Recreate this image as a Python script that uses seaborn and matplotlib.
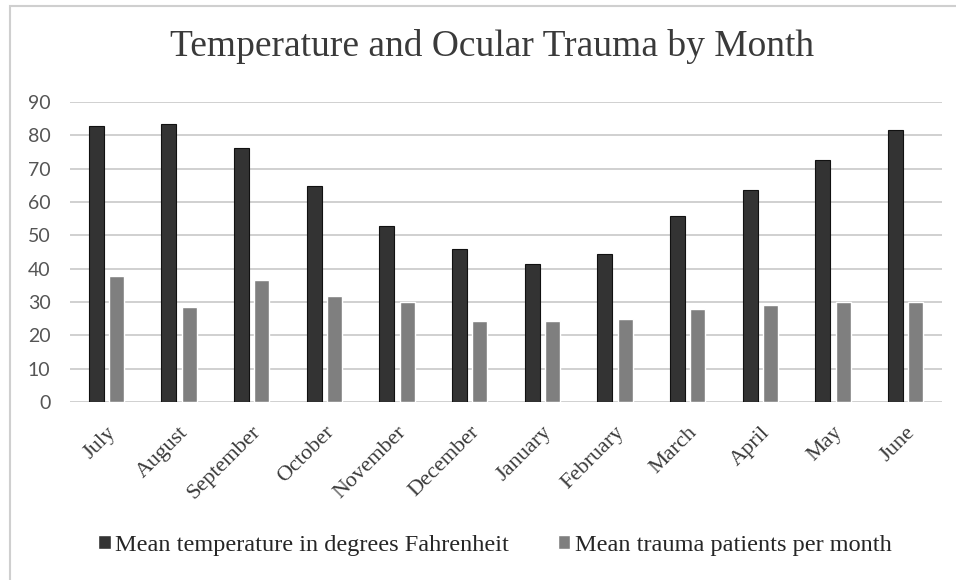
import matplotlib
matplotlib.use("Agg")
import matplotlib.pyplot as plt
import matplotlib.patches as mpatches
import seaborn as sns
import pandas as pd

sns.set_theme(style="white")

# 数据：按月份的平均气温与平均眼外伤人数
months = ["July", "August", "September", "October", "November", "December",
          "January", "February", "March", "April", "May", "June"]
temperature = [82.8, 83.5, 76.2, 64.8, 52.8, 46.0, 41.4, 44.3, 55.8, 63.6, 72.7, 81.6]
trauma = [37.7, 28.5, 36.5, 31.7, 30.1, 24.3, 24.3, 24.9, 27.9, 29.0, 30.1, 30.1]
series_names = ["Mean temperature in degrees Fahrenheit", "Mean trauma patients per month"]
y_ticks = [0, 10, 20, 30, 40, 50, 60, 70, 80, 90]

df = pd.DataFrame({
    "month": months * 2,
    "value": temperature + trauma,
    "series": [series_names[0]] * len(months) + [series_names[1]] * len(months),
})

fig = plt.figure(figsize=(9.56, 5.8), dpi=100)
ax = fig.add_axes([70 / 956, 1 - 402 / 580, 872 / 956, 300 / 580])

sns.barplot(data=df, x="month", y="value", hue="series", order=months,
            palette=["#333333", "#7f7f7f"], width=0.555, gap=0.25,
            saturation=1, ax=ax, legend=True)

# 深色柱子加黑边
for bar in ax.containers[0]:
    bar.set_edgecolor("#111111")
    bar.set_linewidth(0.8)

ax.set_ylim(0, 90)
ax.set_xlim(-0.5, len(months) - 0.5)
ax.set_yticks(y_ticks)
ax.set_yticklabels([str(t) for t in y_ticks], fontsize=14, color="#555555", family="Lato")
ax.set_xticks(range(len(months)))
ax.set_xticklabels(months, rotation=45, ha="right", rotation_mode="anchor",
                   fontsize=16, family="Liberation Serif", color="#3a3a3a")
ax.tick_params(axis="x", length=0, pad=15)
ax.tick_params(axis="y", length=0, pad=14)
ax.set_xlabel("")
ax.set_ylabel("")
ax.yaxis.grid(True, color="#d0d0d0", linewidth=1.4)
ax.set_axisbelow(True)
for s in ax.spines.values():
    s.set_visible(False)

handles, labels = ax.get_legend_handles_labels()
ax.legend_.remove()
fig.legend(handles, labels, loc="center", bbox_to_anchor=(495 / 956, 1 - 545 / 580),
           ncol=2, frameon=False, handlelength=0.5, handleheight=0.5,
           handletextpad=0.2, columnspacing=2.0,
           prop={"family": "Liberation Serif", "size": 17.5})

fig.text(492 / 956, 1 - 47 / 580, "Temperature and Ocular Trauma by Month",
         ha="center", va="center", fontsize=27, family="Liberation Serif", color="#3a3a3a")

# 外框
fig.patches.append(mpatches.Rectangle((10 / 956, -0.02), 1.0, 1 - 6 / 580 + 0.02,
                                      transform=fig.transFigure, fill=False,
                                      edgecolor="#cfcfcf", linewidth=1.5))

fig.savefig("out.png", dpi=100)
plt.close()
